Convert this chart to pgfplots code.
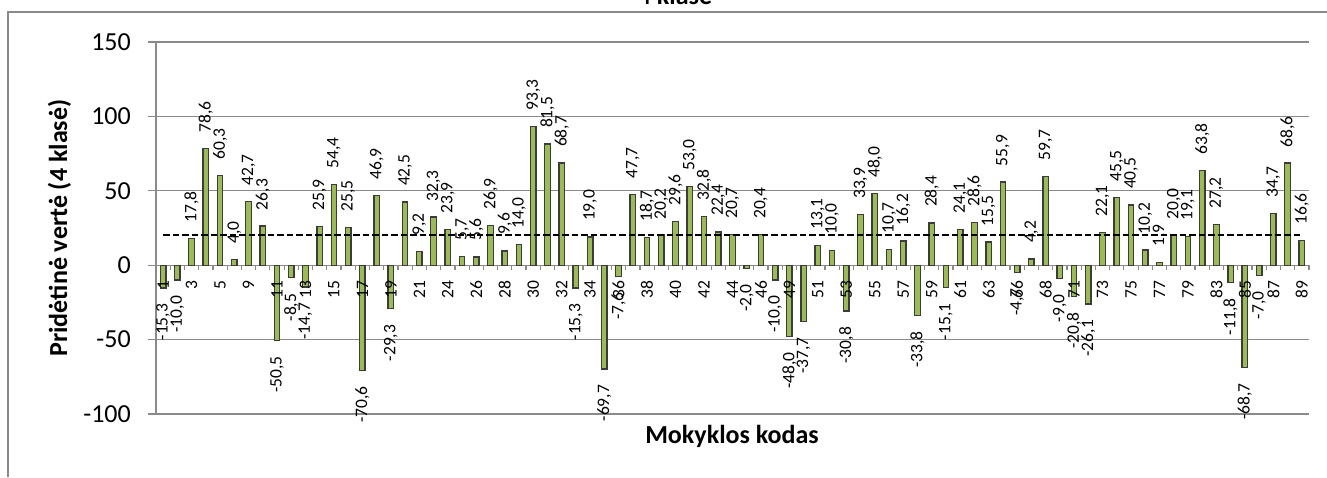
\documentclass[border=0pt]{standalone}
\usepackage{pgfplots}
\pgfplotsset{compat=1.18}
\usepackage{fontspec}
\setmainfont{Carlito}
\definecolor{barfill}{HTML}{9BBB59}
\definecolor{baredge}{HTML}{3C3C3C}
\definecolor{gridgray}{HTML}{8A8A8A}

\begin{document}
\begin{tikzpicture}[x=1pt,y=1pt]
\draw[gridgray, line width=1.5pt] (8,0) -- (8,465) -- (1327,465);
\node[anchor=base, font=\bfseries\fontsize{26}{30}\selectfont] at (675,472) {4 klasė};
\node[anchor=base, rotate=90, font=\bfseries\fontsize{26}{30}\selectfont] at (67,249) {Pridėtinė vertė (4 klasė)};
\node[anchor=base, font=\bfseries\fontsize{26}{30}\selectfont] at (732,34) {Mokyklos kodas};
\begin{axis}[
  set layers,
  at={(156pt,63pt)}, anchor=south west,
  scale only axis, width=1153pt, height=372pt,
  xmin=0.5, xmax=81.5, ymin=-100, ymax=150,
  clip=false,
  axis x line=middle, axis y line=left,
  axis line style={gridgray, line width=1.3pt, -},
  hide obscured y ticks=false,
  ytick={-100,-50,...,150},
  ymajorgrids, grid style={gridgray, line width=1.3pt},
  tick align=outside,
  major tick length=8pt,
  minor tick length=5pt,
  major tick style={gridgray, line width=1.3pt},
  minor tick style={gridgray, line width=1.2pt},
  every major x tick/.append style={draw=none},
  xtick={1,3,...,81},
  xticklabels={1,3,5,9,11,13,15,17,19,21,24,26,28,30,32,34,36,38,40,42,44,46,49,51,53,55,57,59,61,63,66,68,71,73,75,77,79,83,85,87,89},
  minor xtick={0.5,1.5,...,81.5},
  xticklabel style={/pgfplots/on layer=axis foreground, yshift=-7pt, rotate=90, anchor=east, inner sep=0pt, font=\fontsize{17.5}{18}\selectfont},
  yticklabel style={inner sep=0pt, xshift=-17pt, font=\fontsize{26}{28}\selectfont},
  /pgf/number format/assume math mode=true,
]
\addplot[ybar, bar width=5.5pt, bar shift=0pt, fill=barfill, draw=baredge, line width=1.3pt,
  nodes near coords={\pgfmathprintnumber[fixed,fixed zerofill,precision=1,use comma,assume math mode=true]{\pgfplotspointmeta}},
  nodes near coords style={rotate=90, anchor=west, inner sep=0pt, outer xsep=16pt, black, font=\fontsize{17.5}{18}\selectfont}
] coordinates {
(3,17.8)(4,78.6)(5,60.3)(6,4.0)(7,42.7)(8,26.3)(12,25.9)(13,54.4)(14,25.5)(16,46.9)
(18,42.5)(19,9.2)(20,32.3)(21,23.9)(22,5.7)(23,5.6)(24,26.9)(25,9.6)(26,14.0)(27,93.3)
(28,81.5)(29,68.7)(31,19.0)(34,47.7)(35,18.7)(36,20.2)(37,29.6)(38,53.0)(39,32.8)(40,22.4)
(41,20.7)(43,20.4)(47,13.1)(48,10.0)(50,33.9)(51,48.0)(52,10.7)(53,16.2)(55,28.4)(57,24.1)
(58,28.6)(59,15.5)(60,55.9)(62,4.2)(63,59.7)(67,22.1)(68,45.5)(69,40.5)(70,10.2)(71,1.9)
(72,20.0)(73,19.1)(74,63.8)(75,27.2)(79,34.7)(80,68.6)(81,16.6)
};
\addplot[ybar, bar width=5.5pt, bar shift=0pt, fill=barfill, draw=baredge, line width=1.3pt,
  nodes near coords={\pgfmathprintnumber[fixed,fixed zerofill,precision=1,use comma,assume math mode=true]{\pgfplotspointmeta}},
  nodes near coords style={rotate=90, anchor=east, inner sep=0pt, outer xsep=16pt, black, font=\fontsize{17.5}{18}\selectfont}
] coordinates {
(1,-15.3)(2,-10.0)(9,-50.5)(10,-8.5)(11,-14.7)(15,-70.6)(17,-29.3)(30,-15.3)(32,-69.7)(33,-7.6)
(42,-2.0)(44,-10.0)(45,-48.0)(46,-37.7)(49,-30.8)(54,-33.8)(56,-15.1)(61,-4.7)(64,-9.0)(65,-20.8)
(66,-26.1)(76,-11.8)(77,-68.7)(78,-7.0)
};
\addplot[black, line width=2pt, dash pattern=on 6.5pt off 3pt] coordinates {(1,20) (81,20)};
\end{axis}
\pgfresetboundingbox
\useasboundingbox (0,0) rectangle (1327,477);
\end{tikzpicture}
\end{document}
